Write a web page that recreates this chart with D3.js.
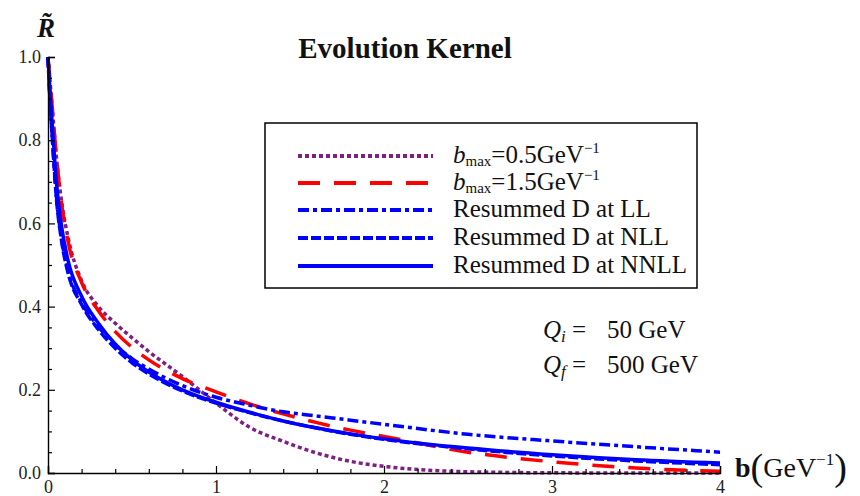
<!DOCTYPE html>
<html>
<head>
<meta charset="utf-8">
<script src="https://cdn.jsdelivr.net/npm/d3@7"></script>
<style>
  body { margin: 0; background: #fff; }
  svg { display: block; font-family: "Liberation Serif", "DejaVu Serif", serif; }
</style>
</head>
<body>
<script>
// b grid (GeV^-1) shared by every curve
const bValues = [0, 0.01, 0.025, 0.05, 0.08, 0.12, 0.2, 0.3, 0.4, 0.5, 0.6, 0.8, 1.0, 1.2, 1.4, 1.6, 1.8, 2.0, 2.5, 3.0, 3.5, 4.0];

// R~ values
const bmax05 = [1.0, 0.95, 0.88, 0.76, 0.655, 0.565, 0.462, 0.40, 0.36, 0.325, 0.292, 0.232, 0.168, 0.11, 0.076, 0.048, 0.028, 0.016, 0.003, 0.0005, 0, 0];
const bmax15 = [1.0, 0.95, 0.88, 0.76, 0.65, 0.555, 0.458, 0.39, 0.34, 0.302, 0.272, 0.227, 0.195, 0.166, 0.142, 0.121, 0.103, 0.088, 0.05, 0.027, 0.012, 0.004];
const resumLL = [1.0, 0.91, 0.81, 0.665, 0.565, 0.485, 0.41, 0.352, 0.308, 0.275, 0.25, 0.21, 0.182, 0.163, 0.147, 0.137, 0.127, 0.117, 0.093, 0.077, 0.063, 0.05];
const resumNLL = [1.0, 0.91, 0.81, 0.66, 0.56, 0.48, 0.405, 0.345, 0.30, 0.265, 0.238, 0.197, 0.168, 0.145, 0.125, 0.108, 0.093, 0.081, 0.058, 0.041, 0.029, 0.02];
const resumNNLL = [1.0, 0.93, 0.84, 0.70, 0.595, 0.51, 0.425, 0.36, 0.31, 0.272, 0.243, 0.20, 0.17, 0.146, 0.125, 0.108, 0.094, 0.082, 0.06, 0.044, 0.032, 0.024];

const xTicks = [0, 1, 2, 3, 4];
const yTicks = [0, 0.2, 0.4, 0.6, 0.8, 1.0];

const series = [
  {key: "b05", values: bmax05, color: "#7d1f86", dash: "4,3", label: "0.5"},
  {key: "b15", values: bmax15, color: "#ff0000", dash: "22,14", label: "1.5"},
  {key: "LL", values: resumLL, color: "#0000ff", dash: "11,4,4,4", label: "Resummed D at LL"},
  {key: "NLL", values: resumNLL, color: "#0000ff", dash: "10,3", label: "Resummed D at NLL"},
  {key: "NNLL", values: resumNNLL, color: "#0000ff", dash: null, label: "Resummed D at NNLL"}
];

const width = 860, height = 496;
const svg = d3.select("body").append("svg")
  .attr("width", width)
  .attr("height", height);

const x = d3.scaleLinear().domain([0, 4]).range([48, 720]);
const y = d3.scaleLinear().domain([0, 1]).range([473, 57]);

// curves
const line = d3.line()
  .x((d, i) => x(bValues[i]))
  .y(d => y(d))
  .curve(d3.curveMonotoneX);

svg.append("g").selectAll("path")
  .data(series)
  .join("path")
    .attr("fill", "none")
    .attr("stroke", d => d.color)
    .attr("stroke-width", 3.5)
    .attr("stroke-dasharray", d => d.dash)
    .attr("d", d => line(d.values));

// axes, ticks pointing inward like Mathematica
const xAxis = svg.append("g").attr("transform", `translate(0,${y(0)})`)
  .call(d3.axisBottom(x).tickValues(xTicks).tickSize(-7).tickPadding(8).tickFormat(d3.format("d")));
xAxis.append("g")
  .call(d3.axisBottom(x).tickValues(d3.range(0, 4.001, 0.2).filter(v => Math.abs(v - Math.round(v)) > 1e-6)).tickSize(-4).tickFormat(""))
  .select(".domain").remove();

const yAxis = svg.append("g").attr("transform", `translate(${x(0)},0)`)
  .call(d3.axisLeft(y).tickValues(yTicks).tickSize(-7).tickPadding(7).tickFormat(d3.format(".1f")));
yAxis.append("g")
  .call(d3.axisLeft(y).tickValues(d3.range(0.05, 1.0, 0.05).filter(v => Math.abs(v * 5 - Math.round(v * 5)) > 1e-6)).tickSize(-4).tickFormat(""))
  .select(".domain").remove();

svg.selectAll(".domain").attr("stroke", "#000").attr("stroke-width", 1.4);
svg.selectAll(".tick line").attr("stroke", "#000").attr("stroke-width", 1.2);
svg.selectAll(".tick text")
  .attr("font-family", "Liberation Serif, serif")
  .attr("font-size", 18)
  .attr("fill", "#222");
xAxis.selectAll(".tick text").attr("dy", "0.66em");

// axis labels and title
svg.append("text")
  .attr("x", 37).attr("y", 37)
  .attr("font-size", 27).attr("font-style", "italic").attr("font-weight", "bold")
  .attr("fill", "#111")
  .text("R\u0303");

svg.append("text")
  .attr("x", 405).attr("y", 58)
  .attr("text-anchor", "middle")
  .attr("font-size", 29).attr("font-weight", "bold")
  .attr("fill", "#111")
  .text("Evolution Kernel");

const bLab = svg.append("text").attr("x", 735).attr("y", 477).attr("font-size", 28).attr("fill", "#111");
bLab.append("tspan").attr("font-weight", "bold").text("b");
bLab.append("tspan").attr("font-size", 38).attr("dy", 3).text("(");
bLab.append("tspan").attr("dy", -3).text("GeV");
bLab.append("tspan").attr("font-size", 17).attr("dy", -12).text("\u22121");
bLab.append("tspan").attr("font-size", 38).attr("dy", 15).text(")");

// legend
const legend = svg.append("g");
legend.append("rect")
  .attr("x", 265).attr("y", 123).attr("width", 432).attr("height", 165)
  .attr("fill", "#fff").attr("stroke", "#000").attr("stroke-width", 1.5);

const rowY = [156, 183, 210, 238, 266];
series.forEach((s, i) => {
  legend.append("line")
    .attr("x1", 298).attr("x2", 433)
    .attr("y1", rowY[i]).attr("y2", rowY[i])
    .attr("stroke", s.color).attr("stroke-width", 4)
    .attr("stroke-dasharray", s.dash);
  const t = legend.append("text")
    .attr("x", 453).attr("y", rowY[i] + 7)
    .attr("font-size", 25).attr("fill", "#111");
  if (i < 2) {
    t.append("tspan").attr("font-style", "italic").text("b");
    t.append("tspan").attr("font-size", 15).attr("dy", 3).text("max");
    t.append("tspan").attr("dy", -3).text("=" + s.label + "GeV");
    t.append("tspan").attr("font-size", 15).attr("dy", -10).text("\u22121");
  } else {
    t.text(s.label);
  }
});

// scale annotation
const qRows = [{sub: "i", val: "50 GeV", yy: 338}, {sub: "f", val: "500 GeV", yy: 373}];
qRows.forEach(r => {
  const t = svg.append("text").attr("x", 543).attr("y", r.yy).attr("font-size", 25).attr("fill", "#111");
  t.append("tspan").attr("font-style", "italic").text("Q");
  t.append("tspan").attr("font-style", "italic").attr("font-size", 17).attr("dy", 4).text(r.sub);
  t.append("tspan").attr("dy", -4).text(" =");
  svg.append("text").attr("x", 607).attr("y", r.yy).attr("font-size", 25).attr("fill", "#111").text(r.val);
});
</script>
</body>
</html>
